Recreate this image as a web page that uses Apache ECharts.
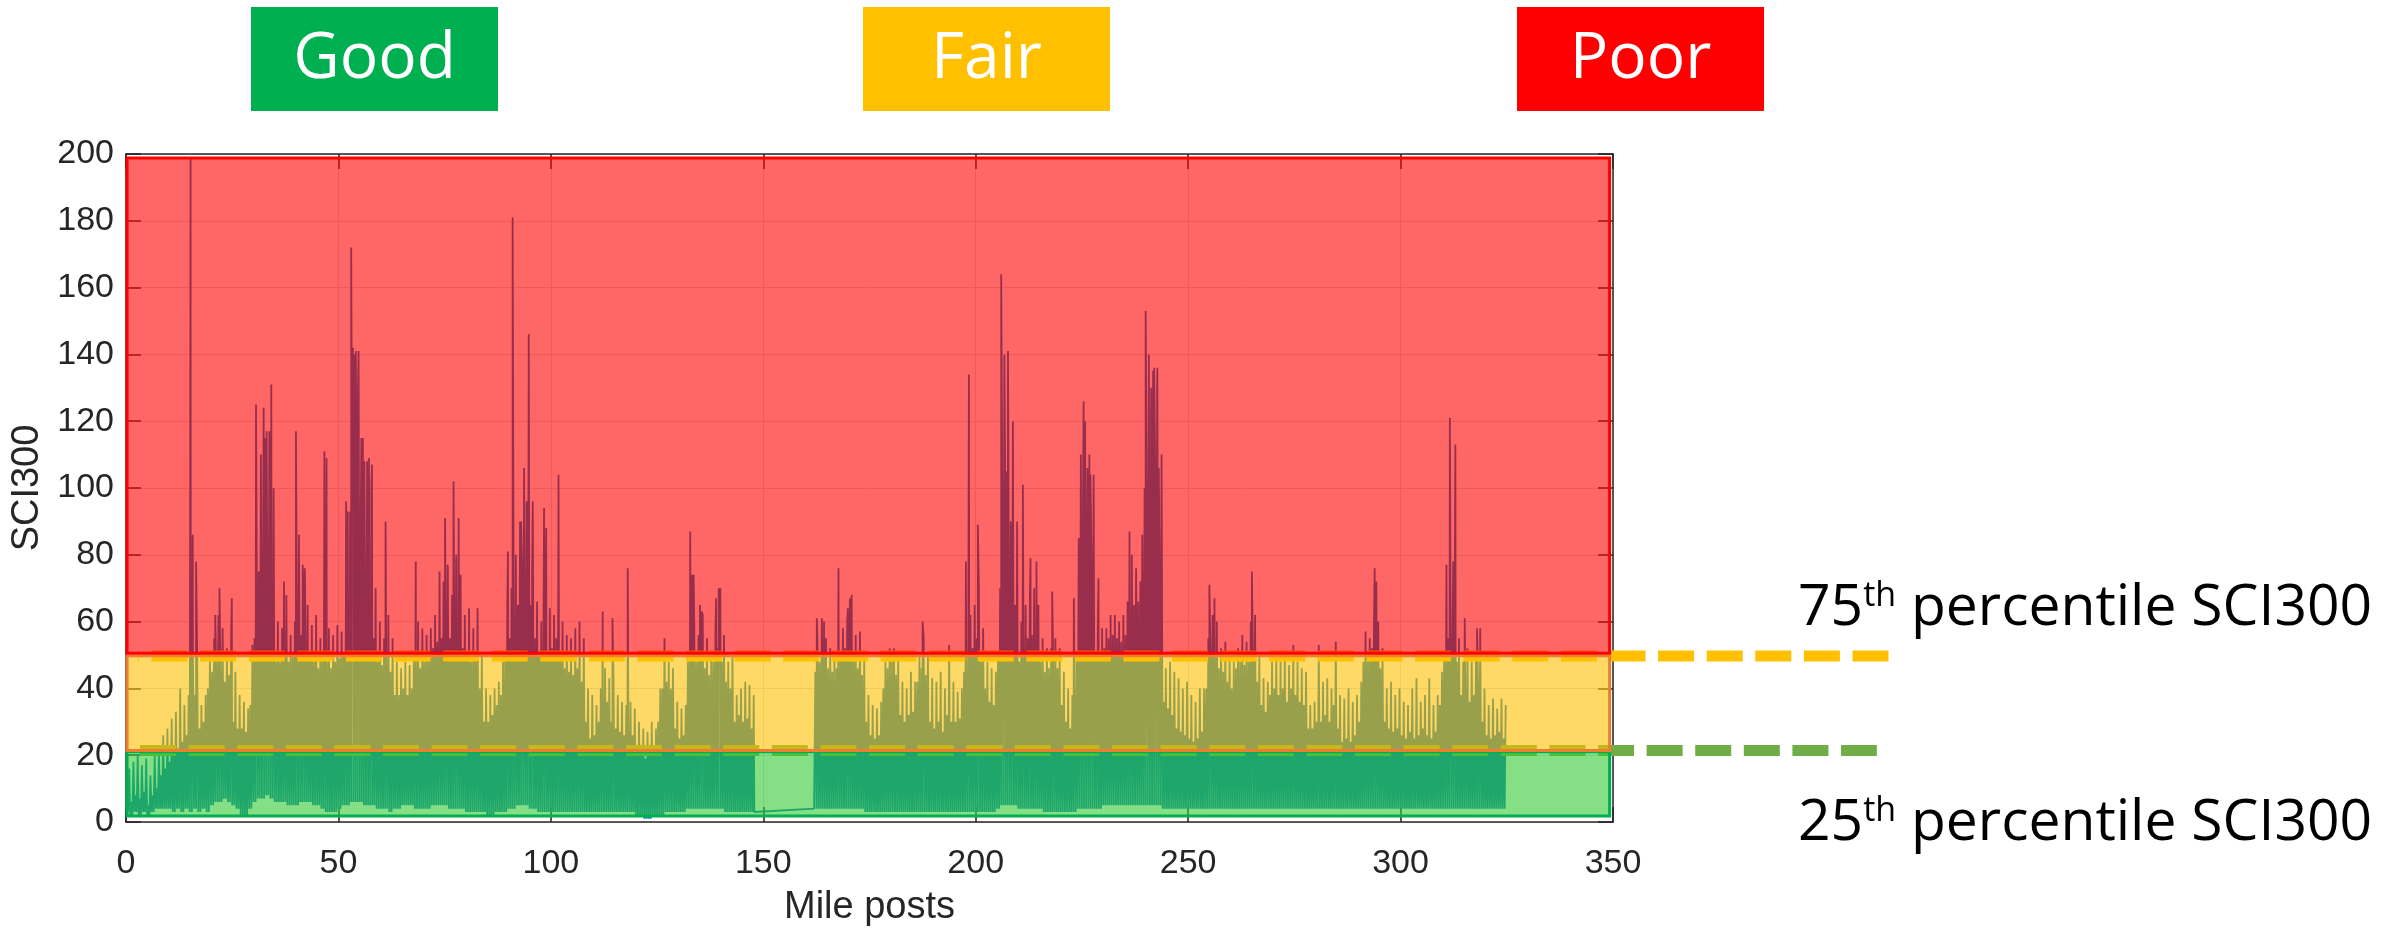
<!DOCTYPE html>
<html><head><meta charset="utf-8">
<script src="https://cdn.jsdelivr.net/npm/echarts/dist/echarts.min.js"></script>
<style>html,body{margin:0;padding:0;background:#fff}#c{width:2392px;height:932px}</style>
</head><body><div id="c"></div>
<script>
// ---- per-mile envelope of SCI300 (index = mile post) ----
const lo = [
3,2,3,2,3,2,3,4,4,4,
4,3,4,3,4,3,4,3,4,3,
5,6,6,7,6,5,4,2,2,4,
6,7,7,8,7,6,6,6,5,5,
5,6,6,6,5,5,4,3,3,3,
4,5,5,6,6,6,5,5,5,4,
4,4,3,4,4,5,5,5,4,4,
4,4,5,5,5,5,4,4,4,4,
3,3,3,3,3,2,2,3,3,3,
4,4,5,5,5,4,4,3,3,3,
3,3,3,3,3,3,3,3,3,3,
3,3,3,3,3,3,3,3,3,3,
2,2,1,1,2,2,2,3,3,3,
3,3,4,4,4,4,4,4,4,4,
4,3,3,3,3,3,3,3,null,null,
null,null,null,null,null,null,null,null,null,null,
null,null,4,4,4,4,4,4,4,4,
4,4,4,4,3,3,3,3,3,3,
3,3,3,3,3,3,3,3,3,3,
3,3,3,3,3,3,3,3,3,3,
3,3,3,3,3,4,5,5,5,5,
4,4,4,4,4,4,3,3,3,3,
3,3,3,3,4,4,4,4,4,4,
5,5,5,5,5,5,5,5,5,5,
5,5,5,5,4,4,4,4,4,4,
4,4,4,4,4,4,4,4,4,4,
4,4,4,4,4,4,4,4,4,4,
4,4,4,4,4,4,4,4,4,4,
4,4,4,4,4,4,4,4,4,4,
4,4,4,4,4,4,4,4,4,4,
4,4,4,4,4,4,4,4,4,4,
4,4,4,4,4,4,4,4,4,4,
4,4,4,4,4
];
const hi = [
7,6,8,7,9,5,8,10,14,16,
18,20,22,24,26,42,38,28,30,40,
45,46,45,42,44,30,28,28,27,35,
55,75,80,80,70,48,48,50,48,50,
55,56,55,50,48,46,48,47,46,48,
49,50,65,95,100,90,75,62,55,48,
47,48,45,38,38,40,38,40,48,46,
48,50,52,54,55,58,55,60,58,52,
50,48,50,40,30,30,32,35,38,50,
55,60,65,75,80,65,55,50,52,50,
52,55,50,46,45,44,46,42,30,25,
26,30,38,36,30,28,27,26,28,26,
22,20,19,20,20,30,40,42,40,28,
25,26,48,50,48,52,46,44,48,52,
48,42,40,30,32,30,31,28,null,null,
null,null,null,null,null,null,null,null,null,null,
null,null,45,48,50,46,45,46,50,52,
55,48,46,44,30,26,25,26,40,46,
48,44,32,30,32,33,42,46,44,30,
28,30,27,32,30,30,31,45,50,52,
55,48,40,36,35,50,100,105,90,65,
48,52,55,56,55,48,45,46,48,46,
35,30,28,38,85,95,95,80,50,50,
52,55,56,55,54,56,62,65,66,75,
100,110,105,80,36,34,32,28,27,26,
25,24,25,27,40,52,50,46,45,42,
40,46,48,47,48,50,42,35,33,38,
40,38,40,36,40,38,36,35,28,28,
30,30,32,30,35,28,24,25,24,26,
30,48,50,52,50,46,30,28,27,28,
26,25,27,25,26,28,26,25,27,35,
50,55,56,48,38,40,36,38,40,30,
26,25,26,27,25
];
const pk = [
16,18,20,17,19,14,20,21,26,28,
31,33,40,35,38,50,50,35,38,50,
55,62,58,52,55,45,38,36,34,53,
85,110,115,117,100,60,58,68,56,60,
75,70,65,59,62,55,60,58,56,59,
57,62,93,140,141,115,108,100,70,60,
55,62,55,48,46,48,47,50,60,58,
56,58,62,62,72,76,68,80,74,62,
64,58,64,50,40,38,40,42,48,65,
70,80,90,106,110,96,66,60,70,64,
62,70,60,56,55,58,60,55,40,38,
35,40,46,43,42,38,36,35,36,34,
30,28,27,30,28,40,55,48,46,36,
34,35,58,60,56,62,55,50,58,62,
56,48,50,38,40,42,41,38,null,null,
null,null,null,null,null,null,null,null,null,null,
null,null,55,56,55,52,50,55,58,60,
62,56,57,50,38,35,34,36,48,52,
52,50,42,40,45,42,50,55,50,43,
42,45,40,53,42,39,40,55,62,65,
70,58,48,46,45,70,140,141,120,90,
60,65,68,70,65,55,52,52,55,52,
45,40,38,50,110,120,110,104,60,58,
58,62,62,60,62,66,80,76,72,100,
140,135,136,110,46,48,45,43,40,42,
38,36,40,40,55,62,60,52,54,51,
48,52,56,54,60,62,50,43,42,48,
50,48,50,47,53,48,46,45,35,36,
53,42,43,40,54,38,37,40,36,38,
42,57,55,60,60,52,40,42,38,40,
36,35,40,43,36,38,43,35,38,45,
60,70,68,55,48,52,48,50,58,40,
35,37,34,37,35
];
// individual tall spikes [mile, SCI300]
const spikes = [
[15.2,199],[15.7,86],[16.5,78],[21.0,62],[22.0,70],[24.9,67],[30.6,125],[32.4,124],[33.1,117],[34.2,131],
[37.2,72],[37.8,68],[40.0,117],[40.7,86],[41.6,77],[42.1,76],[46.7,111],[47.2,109],[51.8,96],[52.2,93],
[53.0,172],[53.4,142],[54.1,141],[54.6,130],[55.4,115],[56.1,108],[57.2,109],[57.9,107],[61.1,90],[68.2,78],
[73.8,75],[75.1,91],[75.7,77],[77.1,102],[77.7,78],[78.3,91],[89.9,81],[91.0,181],[93.0,90],[93.7,106],
[94.3,96],[94.8,146],[95.6,76],[98.4,94],[98.9,88],[101.8,104],[112.2,63],[114.5,61],[118.1,76],[132.8,87],
[133.2,74],[133.6,74],[135.1,65],[135.5,63],[138.9,67],[139.5,70],[139.9,70],[162.6,61],[163.8,61],[164.3,60],
[167.7,76],[169.9,64],[170.4,67],[170.8,68],[187.5,60],[197.7,78],[198.4,134],[200.5,89],[206.0,164],[206.9,110],
[207.6,141],[211.1,101],[212.9,79],[214.3,78],[218.0,69],[223.1,67],[224.8,110],[225.4,126],[226.3,106],[227.0,104],
[228.9,73],[236.2,87],[237.8,76],[239.2,86],[240.0,153],[241.3,130],[242.0,136],[242.7,129],[243.1,106],[255.0,71],
[256.2,67],[265.0,75],[293.9,76],[294.3,72],[310.8,77],[311.6,121],[312.4,78],[312.9,113],[315.1,61],[318.0,58]
];
// ends of the data gap (connected by a straight line in the original)
const gapEdges = [[147.9,3],[161.95,4]];

// condition bands and percentile lines
const bandNames = ['Good','Fair','Poor'];
const bandLower = [1.8, 21.4, 50.5];
const bandUpper = [21.0, 49.8, 198.8];
const bandStart = 0.25, bandEnd = 349.2;
const pctLabels = ['75', '25'];
const pctValues = [49.7, 21.4];
const pctStart = [2.8, 3.3];
const pctEnd = [415.2, 412.1];

const xTicks = {min:0, max:350, interval:50};
const yTicks = {min:0, max:200, interval:20};

// ---- build the signal: per mile low -> high -> low -> peak ----
const signal = [];
for (let i = 0; i < lo.length; i++) {
  if (lo[i] == null) continue;
  signal.push([i, lo[i]], [i + 0.25, hi[i]], [i + 0.5, lo[i]], [i + 0.75, pk[i]]);
}
spikes.forEach(s => signal.push(s));
gapEdges.forEach(s => signal.push(s));
signal.sort((a, b) => a[0] - b[0]);

const bandFill = ['rgba(51,204,51,0.6)', 'rgba(255,192,0,0.6)', 'rgba(255,0,0,0.6)'];
const bandBorder = ['#00B050', '#ED7D31', '#FF0000'];
const boxColor = ['#00B050', '#FFC000', '#FF0000'];
const pctColor = ['#FFC000', '#70AD47'];
const pctDashOffset = [35, 0];

const axisFont = 'Liberation Sans, Arial, sans-serif';
const ink = '#262626';

const chart = echarts.init(document.getElementById('c'), null, {renderer: 'canvas'});

const baseX = {
  type: 'value', min: xTicks.min, max: xTicks.max, interval: xTicks.interval,
  axisLine: {show: true, onZero: false, lineStyle: {color: ink, width: 1.5}},
  axisTick: {show: true, inside: true, length: 15, lineStyle: {color: ink, width: 1.5}},
};
const baseY = {
  type: 'value', min: yTicks.min, max: yTicks.max, interval: yTicks.interval,
  axisLine: {show: true, onZero: false, lineStyle: {color: ink, width: 1.5}},
  axisTick: {show: true, inside: true, length: 15, lineStyle: {color: ink, width: 1.5}},
};

const graphics = [];
const boxLeft = [251, 863, 1517];
bandNames.forEach((n, k) => {
  graphics.push({type: 'rect', silent: true, x: boxLeft[k], y: 7, shape: {width: 247, height: 104}, style: {fill: boxColor[k]}});
  graphics.push({type: 'text', silent: true, x: boxLeft[k] + 123.5, y: 60,
    style: {text: n, fill: '#ffffff', font: '64px "Open Sans"', align: 'center', verticalAlign: 'middle', textAlign: 'center', textVerticalAlign: 'middle'}});
});
const pctY = [609, 824];
pctLabels.forEach((p, k) => {
  graphics.push({type: 'text', silent: true, x: 1798, y: pctY[k],
    style: {
      text: '{n|' + p + '}{s|th}{n| percentile SCI300}',
      fill: '#000', align: 'left', verticalAlign: 'middle', textAlign: 'left', textVerticalAlign: 'middle',
      rich: {
        n: {fontSize: 57, fontFamily: 'Open Sans', fill: '#000', lineHeight: 60},
        s: {fontSize: 34, fontFamily: 'Open Sans', fill: '#000', verticalAlign: 'top', lineHeight: 34}
      }
    }});
});

const series = [
  {type: 'line', name: 'SCI300', data: signal, symbol: 'none', showSymbol: false, silent: true,
   sampling: null, lineStyle: {color: '#0072BD', width: 1.8}, z: 2, clip: true},
  {
    type: 'line', data: [], silent: true, z: 10,
    markArea: {
      silent: true, z: 10,
      data: bandNames.map((n, k) => [
        {xAxis: bandStart, yAxis: bandLower[k], itemStyle: {color: bandFill[k], borderColor: bandBorder[k], borderWidth: 3}},
        {xAxis: bandEnd, yAxis: bandUpper[k]}
      ])
    }
  }
];

chart.setOption({
  animation: false,
  backgroundColor: '#ffffff',
  grid: {left: 126, right: 779, top: 154, bottom: 99, containLabel: false},
  xAxis: [
    Object.assign({}, baseX, {
      position: 'bottom',
      splitLine: {show: true, lineStyle: {color: '#dcdcdc', width: 1}},
      axisLabel: {fontSize: 34, fontFamily: axisFont, color: ink, margin: 25},
      name: 'Mile posts', nameLocation: 'middle', nameGap: 67,
      nameTextStyle: {fontSize: 38, fontFamily: axisFont, color: ink}
    }),
    Object.assign({}, baseX, {position: 'top', axisLabel: {show: false}, splitLine: {show: false}})
  ],
  yAxis: [
    Object.assign({}, baseY, {
      position: 'left',
      splitLine: {show: true, lineStyle: {color: '#dcdcdc', width: 1}},
      axisLabel: {fontSize: 34, fontFamily: axisFont, color: ink, margin: 12},
      name: 'SCI300', nameLocation: 'middle', nameGap: 77, nameRotate: 90,
      nameTextStyle: {fontSize: 38, fontFamily: axisFont, color: ink}
    }),
    Object.assign({}, baseY, {position: 'right', axisLabel: {show: false}, splitLine: {show: false}})
  ],
  series: series,
  graphic: graphics
});

// percentile reference lines: placed through the axis scales, extending past the plot
const pctLines = pctValues.map((v, k) => {
  const p0 = chart.convertToPixel({xAxisIndex: 0, yAxisIndex: 0}, [pctStart[k], v]);
  const p1 = chart.convertToPixel({xAxisIndex: 0, yAxisIndex: 0}, [pctEnd[k], v]);
  return {type: 'line', silent: true, z: 3,
    shape: {x1: p0[0], y1: p0[1], x2: p1[0], y2: p1[1]},
    style: {stroke: pctColor[k], lineWidth: 11, lineDash: [36, 12.6], lineDashOffset: pctDashOffset[k], lineCap: 'butt'}};
});
chart.setOption({graphic: graphics.concat(pctLines)});
</script></body></html>
